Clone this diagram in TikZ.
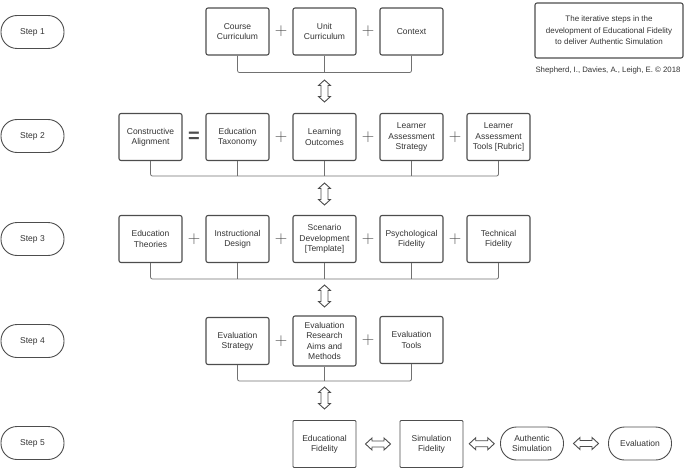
\documentclass[tikz,border=0pt]{standalone}
\usepackage{fontspec}
\setmainfont{Liberation Sans}
\usetikzlibrary{calc}

\definecolor{boxline}{HTML}{4D4D4D}
\definecolor{txtgray}{HTML}{333333}

\begin{document}
\begin{tikzpicture}[x=1pt,y=-1pt,line width=1.1pt,
	box/.style={draw=boxline,rounded corners=2pt,minimum width=63pt,minimum height=47pt,inner sep=1pt,align=center,text=txtgray,font=\fontsize{8.5}{10.3}\selectfont},
	pill/.style={draw=boxline,line width=0.9pt,rounded corners=16pt,minimum width=63pt,minimum height=33pt,inner sep=1pt,align=center,text=txtgray,font=\fontsize{8.5}{10.3}\selectfont},
	plus/.style={text=boxline,font=\fontsize{16}{16}\selectfont,inner sep=0pt},
	bracket/.style={draw=boxline!80,line width=0.8pt,rounded corners=2pt},
	blockarrow/.style={draw=boxline,line width=0.9pt,fill=white}]
	
	\useasboundingbox (0,0) rectangle (685,468);
	
	%steps
	\foreach \i/\y in {1/32,2/136,3/239,4/341,5/443}
	\node[pill] (step\i) at (32.5,\y) {Step \i};
	
	%title
	\node[box,minimum width=148pt,minimum height=55pt,font=\fontsize{8}{11.5}\selectfont] (title) at (609,30.5)
	{The iterative steps in the\\development of Educational Fidelity\\to deliver Authentic Simulation};
	\node[text=txtgray,font=\fontsize{7.8}{9}\selectfont,inner sep=0pt] (cite) at (608,70) {Shepherd, I., Davies, A., Leigh, E. © 2018};
	
	%step 1
	\node[box] (cc) at (237.5,31.5) {Course\\Curriculum};
	\node[box] (uc) at (324.5,31.5) {Unit\\Curriculum};
	\node[box] (ctx) at (411.5,31.5) {Context};
	\foreach \a/\b in {cc/uc,uc/ctx}
	\node[plus] (p-\a) at ($(\a.east)!0.5!(\b.west)$) {$+$};
	\draw[bracket] (cc.south) -- ++(0,17) coordinate (b1) -| (ctx.south);
	\draw[bracket] (uc.south) -- (uc.south |- b1);
	
	%step 2
	\node[box] (ca) at (150.5,137) {Constructive\\Alignment};
	\node[box] (et) at (237.5,137) {Education\\Taxonomy};
	\node[box] (lo) at (324.5,137) {Learning\\Outcomes};
	\node[box] (las) at (411.5,137) {Learner\\Assessment\\Strategy};
	\node[box] (lat) at (498.5,137) {Learner\\Assessment\\Tools [Rubric]};
	\node[plus,font=\fontsize{20}{20}\bfseries] (eq) at ($(ca.east)!0.5!(et.west)$) {=};
	\foreach \a/\b in {et/lo,lo/las,las/lat}
	\node[plus] (p-\a) at ($(\a.east)!0.5!(\b.west)$) {$+$};
	\draw[bracket] (ca.south) -- ++(0,15) coordinate (b2) -| (lat.south);
	\foreach \n in {et,lo,las}
	\draw[bracket] (\n.south) -- (\n.south |- b2);
	
	%step 3
	\node[box] (eth) at (150.5,239) {Education\\Theories};
	\node[box] (id) at (237.5,239) {Instructional\\Design};
	\node[box] (sd) at (324.5,239) {Scenario\\Development\\{[Template]}};
	\node[box] (pf) at (411.5,239) {Psychological\\Fidelity};
	\node[box] (tf) at (498.5,239) {Technical\\Fidelity};
	\foreach \a/\b in {eth/id,id/sd,sd/pf,pf/tf}
	\node[plus] (p-\a) at ($(\a.east)!0.5!(\b.west)$) {$+$};
	\draw[bracket] (eth.south) -- ++(0,16) coordinate (b3) -| (tf.south);
	\foreach \n in {id,sd,pf}
	\draw[bracket] (\n.south) -- (\n.south |- b3);
	
	%step 4
	\node[box] (es) at (237.5,341) {Evaluation\\Strategy};
	\node[box,minimum height=50pt] (era) at (324.5,341) {Evaluation\\Research\\Aims and\\Methods};
	\node[box] (evt) at (411.5,340) {Evaluation\\Tools};
	\foreach \a/\b in {es/era,era/evt}
	\node[plus] (p-\a) at ($(\a.east)!0.5!(\b.west)$) {$+$};
	\draw[bracket] (es.south) -- ++(0,16) coordinate (b4) -| (evt.south);
	\draw[bracket] (era.south) -- (era.south |- b4);
	
	%arrows between steps
	\foreach \y in {91,194,296,398}
	\draw[blockarrow] (324.5,\y) ++(0,-11) -- ++(6,5.5) -- ++(-2.5,0) -- ++(0,11) -- ++(2.5,0) -- ++(-6,5.5)
	-- ++(-6,-5.5) -- ++(2.5,0) -- ++(0,-11) -- ++(-2.5,0) -- cycle;
	
	%step 5
	\node[box,line width=0.9pt,rounded corners=1pt] (edf) at (324.5,444) {Educational\\Fidelity};
	\node[box,line width=0.9pt,rounded corners=1pt] (smf) at (431.5,444) {Simulation\\Fidelity};
	\node[pill] (aus) at (532,443.5) {Authentic\\Simulation};
	\node[pill] (evl) at (640,443.5) {Evaluation};
	\foreach \a/\b in {edf/smf,smf/aus,aus/evl}
	\draw[blockarrow] ($(\a.east)!0.5!(\b.west)$) ++(-12.5,0) -- ++(6.5,-6) -- ++(0,3) -- ++(12,0) -- ++(0,-3) -- ++(6.5,6)
	-- ++(-6.5,6) -- ++(0,-3) -- ++(-12,0) -- ++(0,3) -- cycle;
	
\end{tikzpicture}
\end{document}
